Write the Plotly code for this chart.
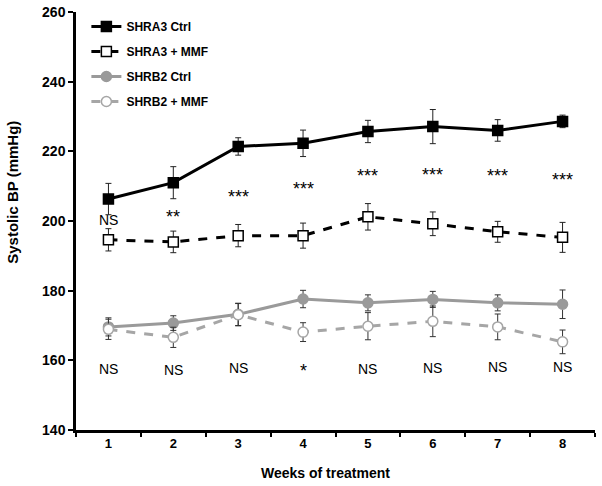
import plotly.graph_objects as go

weeks = ["1", "2", "3", "4", "5", "6", "7", "8"]

shra3_ctrl = [206.3, 211.0, 221.4, 222.3, 225.7, 227.1, 226.0, 228.6]
shra3_ctrl_err = [4.5, 4.6, 2.5, 3.8, 3.2, 4.9, 3.1, 1.8]

shra3_mmf = [194.6, 194.0, 195.8, 195.8, 201.2, 199.2, 196.9, 195.3]
shra3_mmf_err = [3.2, 3.1, 3.2, 3.6, 3.8, 3.4, 3.0, 4.3]

shrb2_ctrl = [169.6, 170.7, 173.2, 177.6, 176.5, 177.5, 176.5, 176.1]
shrb2_ctrl_err = [2.6, 2.1, 3.2, 2.5, 2.3, 2.3, 2.3, 4.1]

shrb2_mmf = [168.9, 166.6, 173.1, 168.1, 169.8, 171.2, 169.6, 165.3]
shrb2_mmf_err = [2.9, 2.9, 3.2, 2.7, 3.9, 4.4, 3.7, 3.4]

top_labels = ["NS", "**", "***", "***", "***", "***", "***", "***"]
top_label_y = [200.3, 201.1, 206.8, 209.1, 212.9, 213.2, 212.9, 211.7]
bottom_labels = ["NS", "NS", "NS", "*", "NS", "NS", "NS", "NS"]
bottom_label_y = [157.5, 157.2, 157.8, 156.9, 157.5, 157.8, 158.0, 158.0]

FONT = "Liberation Sans, Arial, sans-serif"

fig = go.Figure()

def add(name, y, err, color, dash, symbol, mcolor, mline, msize, ecolor):
    fig.add_trace(go.Scatter(
        x=weeks, y=y, name=name, mode="lines+markers", legendgroup=name,
        line=dict(color=color, width=3, dash=dash),
        marker=dict(symbol=symbol, size=msize, color=mcolor,
                    line=dict(color=mline, width=1.5)),
        error_y=dict(type="data", array=err, visible=True,
                     color=ecolor, thickness=1, width=3),
    ))

add("SHRA3 Ctrl", shra3_ctrl, shra3_ctrl_err, "black", "solid",
    "square", "black", "black", 10, "#222222")
add("SHRA3 + MMF", shra3_mmf, shra3_mmf_err, "black", "dash",
    "square", "white", "black", 10, "#222222")
add("SHRB2 Ctrl", shrb2_ctrl, shrb2_ctrl_err, "#9a9a9a", "solid",
    "circle", "#9a9a9a", "#9a9a9a", 10, "#333333")
add("SHRB2 + MMF", shrb2_mmf, shrb2_mmf_err, "#a6a6a6", "dash",
    "circle", "white", "#a6a6a6", 10, "#333333")

for i, (t, yy) in enumerate(zip(top_labels, top_label_y)):
    fig.add_annotation(x=i, y=yy, text=t, showarrow=False,
                       font=dict(family=FONT, size=14 if t == "NS" else 18,
                                 color="black"))
for i, (t, yy) in enumerate(zip(bottom_labels, bottom_label_y)):
    fig.add_annotation(x=i, y=yy, text=t, showarrow=False,
                       font=dict(family=FONT, size=14 if t == "NS" else 18,
                                 color="black"))

# axis titles
fig.add_annotation(xref="paper", yref="paper", x=-0.123, y=0.568,
                   text="<b>Systolic BP (mmHg)</b>", textangle=-90,
                   showarrow=False, xanchor="center", yanchor="middle",
                   font=dict(family=FONT, size=15, color="black"))
fig.add_annotation(xref="paper", yref="paper", x=0.48, y=-0.103,
                   text="<b>Weeks of treatment</b>",
                   showarrow=False, xanchor="center", yanchor="middle",
                   font=dict(family=FONT, size=14, color="black"))

fig.update_layout(
    width=602, height=486,
    margin=dict(l=76, r=7, t=12, b=56, autoexpand=False),
    paper_bgcolor="white", plot_bgcolor="white",
    font=dict(family=FONT, color="black"),
    showlegend=True,
    legend=dict(x=0.02, y=1.0, xanchor="left", yanchor="top",
                bgcolor="rgba(0,0,0,0)", tracegroupgap=6,
                font=dict(family=FONT, size=12, color="black", weight="bold"),
                itemwidth=30),
    xaxis=dict(
        type="category", tickson="boundaries", ticks="outside", ticklen=4,
        tickwidth=1.5, tickcolor="black", range=[-0.5, 7.5],
        showline=True, linecolor="black", linewidth=2.5, showgrid=False,
        zeroline=False,
        tickfont=dict(family=FONT, size=13, weight="bold"),
    ),
    yaxis=dict(
        range=[140, 260], dtick=20, ticks="outside", ticklen=5,
        tickwidth=1.5, tickcolor="black",
        showline=True, linecolor="black", linewidth=2.5, showgrid=False,
        zeroline=False,
        tickfont=dict(family=FONT, size=14, weight="bold"),
    ),
)

fig.write_html("out.html",
               config={"displayModeBar": False},
               post_script="document.body.style.margin='0';"
                           "document.body.style.padding='0';"
                           "document.body.style.overflow='hidden';")
